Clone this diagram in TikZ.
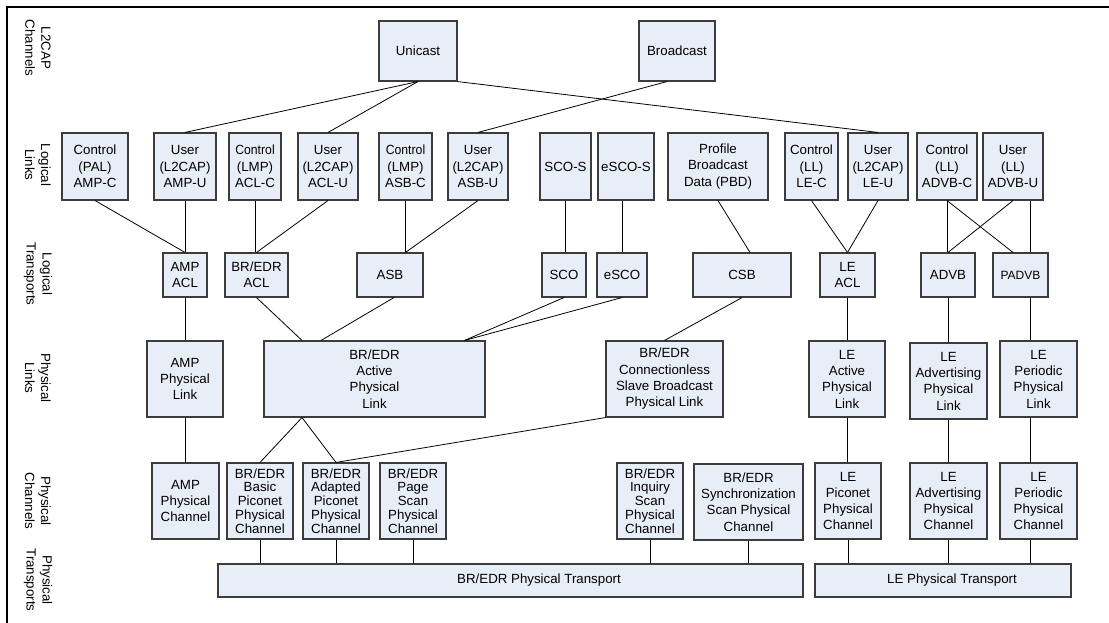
\documentclass[tikz,border=0pt]{standalone}
\usepackage{fontspec}
\setmainfont{Liberation Sans}
\usetikzlibrary{calc}
\definecolor{boxfill}{HTML}{E8EEF7}
\definecolor{boxline}{HTML}{3C3C3C}
\begin{document}
\begin{tikzpicture}[x=1pt,y=-1pt,
  box/.style={draw=boxline, line width=1.1pt, fill=boxfill, inner sep=0pt,
    align=center, font=\fontsize{13.3}{16.3}\selectfont},
  tight/.style={font=\fontsize{13.3}{13.8}\selectfont},
  layer/.style={rotate=-90, align=center, inner sep=0pt,
    font=\fontsize{13.3}{16}\selectfont},
  link/.style={draw=black, line width=0.8pt}]
\useasboundingbox (0,0) rectangle (1109,623);

% frame
\draw[line width=2.5pt] (7,623) -- (7,7) -- (1109,7);

% layer captions
\node[layer] (capl2) at (38,48) {L2CAP\\Channels};
\node[layer] (capll) at (38,165) {Logical\\Links};
\node[layer] (caplt) at (38,274) {Logical\\Transports};
\node[layer] (cappl) at (38,378) {Physical\\Links};
\node[layer] (cappc) at (38,501) {Physical\\Channels};
\node[layer] (cappt) at (38,580) {Physical\\Transports};

% L2CAP channels
\node[box, minimum width=78, minimum height=60] (uni) at (418,51) {Unicast};
\node[box, minimum width=76, minimum height=60] (bc) at (677,51) {Broadcast};

% logical links
\node[box, minimum width=66, minimum height=67] (ampc) at (95,166.5) {Control\\(PAL)\\AMP-C};
\node[box, minimum width=62, minimum height=67] (ampu) at (185,166.5) {User\\(L2CAP)\\AMP-U};
\node[box, minimum width=52, minimum height=67] (aclc) at (255,166.5) {\scalebox{0.92}[1]{Control}\\(LMP)\\ACL-C};
\node[box, minimum width=60, minimum height=67] (aclu) at (328,166.5) {User\\(L2CAP)\\ACL-U};
\node[box, minimum width=53, minimum height=67] (asbc) at (405.5,166.5) {\scalebox{0.92}[1]{Control}\\(LMP)\\ASB-C};
\node[box, minimum width=60, minimum height=67] (asbu) at (478,166.5) {User\\(L2CAP)\\ASB-U};
\node[box, minimum width=51, minimum height=67] (scos) at (565.5,166.5) {SCO-S};
\node[box, minimum width=56, minimum height=67] (escos) at (626,166.5) {eSCO-S};
\node[box, minimum width=100, minimum height=67] (pbd) at (718,166.5) {Profile\\Broadcast\\Data (PBD)};
\node[box, minimum width=53, minimum height=67] (lec) at (811.5,166.5) {Control\\(LL)\\LE-C};
\node[box, minimum width=60, minimum height=67] (leu) at (878,166.5) {User\\(L2CAP)\\LE-U};
\node[box, minimum width=60, minimum height=67] (advbc) at (947,166.5) {Control\\(LL)\\ADVB-C};
\node[box, minimum width=60, minimum height=67] (advbu) at (1013,166.5) {User\\(LL)\\ADVB-U};

% logical transports
\node[box, minimum width=44, minimum height=44] (ampacl) at (185,275) {AMP\\ACL};
\node[box, minimum width=63, minimum height=44] (bracl) at (256.5,275) {BR/EDR\\ACL};
\node[box, minimum width=66, minimum height=44] (asb) at (390,275) {ASB};
\node[box, minimum width=44, minimum height=44] (sco) at (564,275) {SCO};
\node[box, minimum width=50, minimum height=44] (esco) at (622,275) {eSCO};
\node[box, minimum width=98, minimum height=44] (csb) at (742,275) {CSB};
\node[box, minimum width=55, minimum height=44] (leacl) at (847.5,275) {LE\\ACL};
\node[box, minimum width=54, minimum height=44] (advb) at (948,275) {ADVB};
\node[box, minimum width=55, minimum height=44, font=\fontsize{12}{14}\selectfont] (padvb) at (1020.5,275) {PADVB};

% physical links
\node[box, minimum width=76, minimum height=76] (ampl) at (185,379) {AMP\\Physical\\Link};
\node[box, minimum width=221, minimum height=76] (act) at (374.5,379) {BR/EDR\\Active\\Physical\\Link};
\node[box, minimum width=117, minimum height=76] (cls) at (664.5,379) {BR/EDR\\Connectionless\\Slave Broadcast\\Physical Link};
\node[box, minimum width=76, minimum height=76] (leact) at (847,379) {LE\\Active\\Physical\\Link};
\node[box, minimum width=77, minimum height=76] (leadvl) at (948.5,381) {LE\\Advertising\\Physical\\Link};
\node[box, minimum width=77, minimum height=76] (leperl) at (1038.5,379) {LE\\Periodic\\Physical\\Link};

% physical channels
\node[box, minimum width=67, minimum height=76] (ampch) at (185.5,501) {AMP\\Physical\\Channel};
\node[box, tight, minimum width=66, minimum height=76] (basic) at (260,501) {BR/EDR\\Basic\\Piconet\\Physical\\Channel};
\node[box, tight, minimum width=66, minimum height=76] (adapt) at (336,501) {BR/EDR\\Adapted\\Piconet\\Physical\\Channel};
\node[box, tight, minimum width=66, minimum height=76] (page) at (413,501) {BR/EDR\\Page\\Scan\\Physical\\Channel};
\node[box, tight, minimum width=66, minimum height=76] (inq) at (650,501) {BR/EDR\\Inquiry\\Scan\\Physical\\Channel};
\node[box, minimum width=109, minimum height=76] (sync) at (748.5,502) {BR/EDR\\Synchronization\\Scan Physical\\Channel};
\node[box, minimum width=66, minimum height=76] (lepic) at (848,501) {LE\\Piconet\\Physical\\Channel};
\node[box, minimum width=77, minimum height=76] (leadvch) at (948.5,501) {LE\\Advertising\\Physical\\Channel};
\node[box, minimum width=77, minimum height=76] (leperch) at (1038.5,501) {LE\\Periodic\\Physical\\Channel};

% physical transports
\node[box, minimum width=585, minimum height=33] (brpt) at (510.5,580.5) {\hspace*{57pt}BR/EDR Physical Transport};
\node[box, minimum width=256, minimum height=33] (lept) at (943,580.5) {\hspace*{18pt}LE Physical Transport};

% channels to logical links
\draw[link] (uni.south) -- (ampu.north);
\draw[link] (uni.south) -- (aclu.north);
\draw[link] (uni.south east) -- (leu.north);
\draw[link] ([xshift=-10pt]bc.south) -- (asbu.north);

% logical links to logical transports
\draw[link] (ampc.south) -- (ampacl.north);
\draw[link] (ampu.south) -- (ampacl.north);
\draw[link] (aclc.south) -- (aclc.south |- bracl.north);
\draw[link] (aclu.south) -- (bracl.north);
\draw[link] (asbc.south) -- (asbc.south |- asb.north);
\draw[link] (asbu.south) -- (asbc.south |- asb.north);
\draw[link] (scos.south) -- (scos.south |- sco.north);
\draw[link] (esco.north |- escos.south) -- (esco.north);
\draw[link] (pbd.south) -- ([xshift=8pt]csb.north);
\draw[link] (lec.south) -- (leacl.north);
\draw[link] (leu.south) -- (leacl.north);
\draw[link] (advbc.south) -- (advbc.south |- advb.north);
\draw[link] (advbc.south) -- ([xshift=-7.5pt]padvb.north);
\draw[link] (advbu.south) -- (advb.north);
\draw[link] ([xshift=17pt]advbu.south) -- ([xshift=17pt]advbu.south |- padvb.north);

% logical transports to physical links
\draw[link] (ampacl.south) -- (ampl.north);
\draw[link] (bracl.south) -- ([xshift=-72.5pt]act.north);
\draw[link] ([xshift=4pt]asb.south) -- ([xshift=-53.5pt]act.north);
\draw[link] (sco.south) -- ([xshift=90pt]act.north);
\draw[link] (esco.south) -- ([xshift=90pt]act.north);
\draw[link] (csb.south) -- (cls.north);
\draw[link] (leacl.south) -- (leacl.south |- leact.north);
\draw[link] (advb.south) -- (advb.south |- leadvl.north);
\draw[link] ([xshift=9.5pt]padvb.south) -- ([xshift=9.5pt]padvb.south |- leperl.north);

% physical links to physical channels
\draw[link] (ampl.south) -- (ampl.south |- ampch.north);
\draw[link] ([xshift=-72.5pt]act.south) -- (basic.north);
\draw[link] ([xshift=-72.5pt]act.south) -- (adapt.north);
\draw[link] (cls.south west) -- (adapt.north);
\draw[link] (leact.south) -- (leact.south |- lepic.north);
\draw[link] (leadvl.south) -- (leadvch.north);
\draw[link] ([xshift=-8.5pt]leperl.south) -- ([xshift=-8.5pt]leperch.north);

% physical channels to physical transports
\draw[link] (basic.south) -- (basic.south |- brpt.north);
\draw[link] (adapt.south) -- (adapt.south |- brpt.north);
\draw[link] (page.south) -- (page.south |- brpt.north);
\draw[link] (inq.south) -- (inq.south |- brpt.north);
\draw[link] (sync.south) -- (sync.south |- brpt.north);
\draw[link] (lepic.south) -- (lepic.south |- lept.north);
\draw[link] (leadvch.south) -- (leadvch.south |- lept.north);
\draw[link] ([xshift=-8.5pt]leperch.south) -- ([xshift=-8.5pt]leperch.south |- lept.north);
\end{tikzpicture}
\end{document}
